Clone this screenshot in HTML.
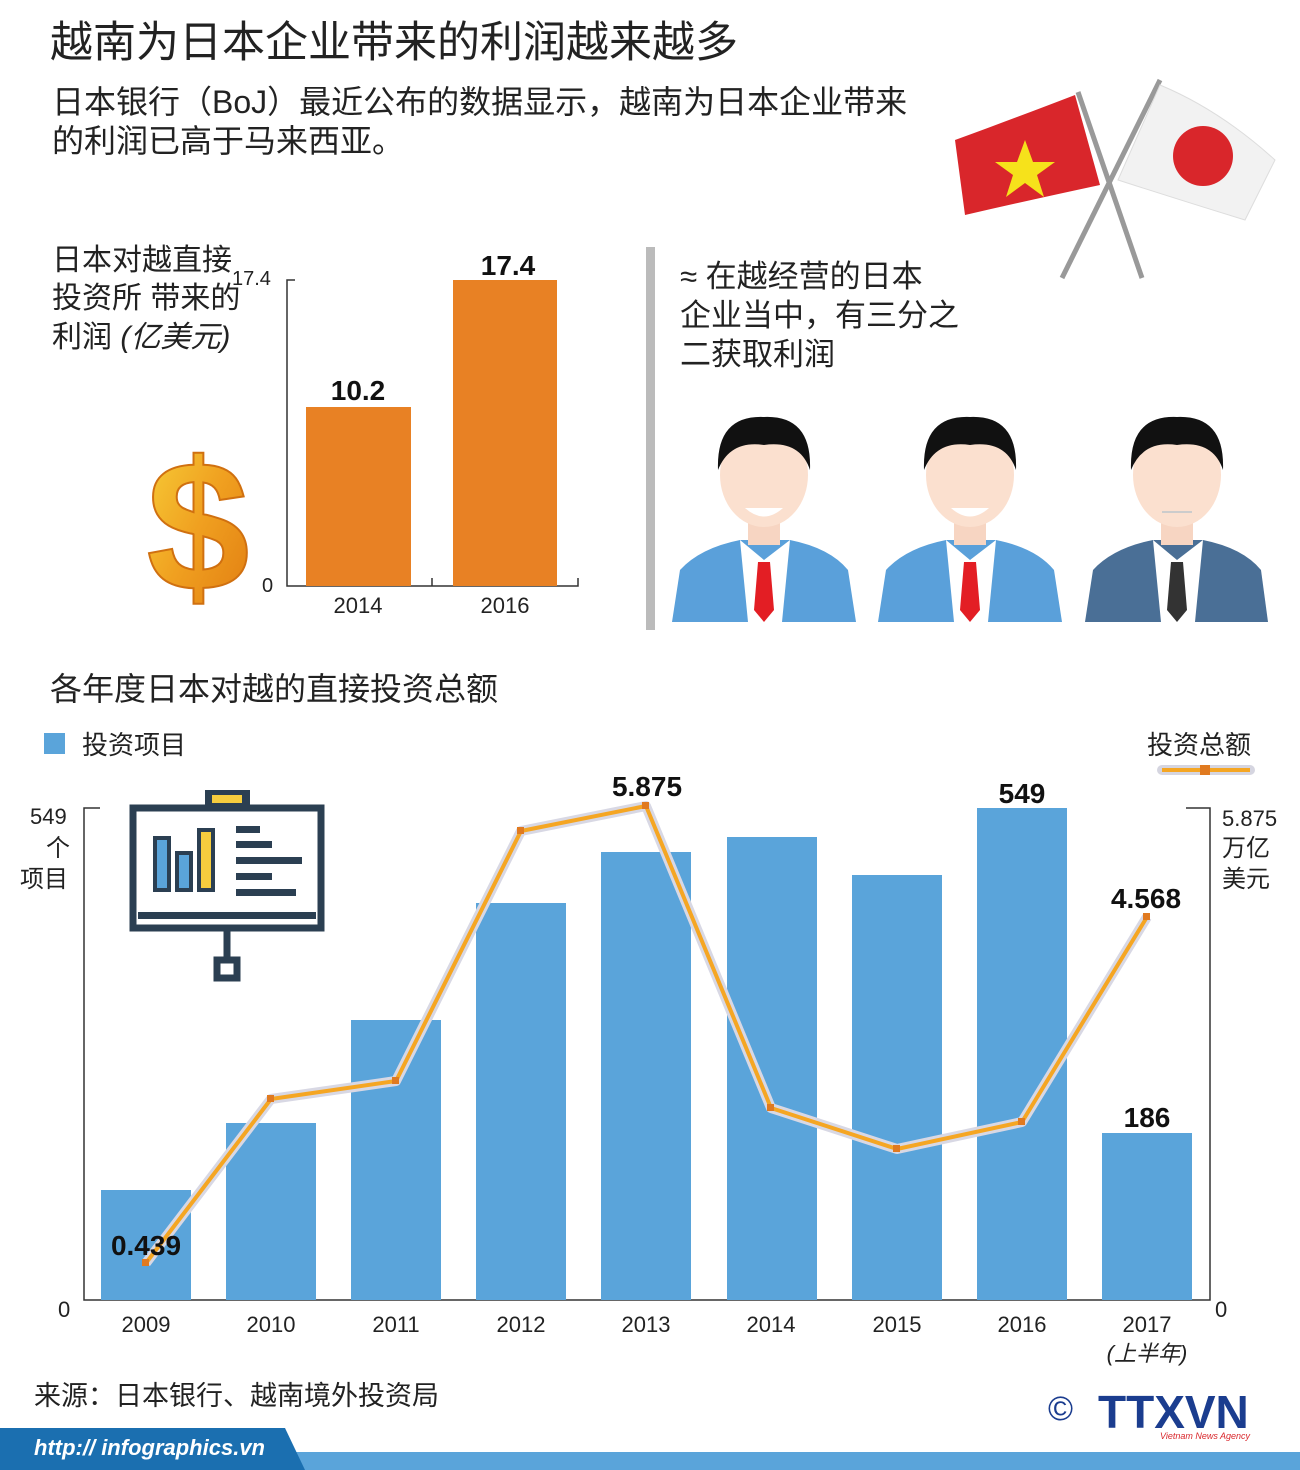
<!DOCTYPE html>
<html><head><meta charset="utf-8"><style>
body{margin:0;background:#fff;}
svg{display:block;}
text{font-family:"Liberation Sans","Noto Sans CJK SC",sans-serif;}
</style></head><body>
<svg width="1300" height="1470" viewBox="0 0 1300 1470" xmlns="http://www.w3.org/2000/svg">
<defs>
<linearGradient id="gd" x1="0" y1="0" x2="1" y2="1"><stop offset="0" stop-color="#f7d23a"/><stop offset="0.5" stop-color="#f0a020"/><stop offset="1" stop-color="#e07a10"/></linearGradient>
</defs>
<text x="50" y="57" font-size="43" fill="#222">越南为日本企业带来的利润越来越多</text>
<text x="52" y="113" font-size="32" fill="#222">日本银行（BoJ）最近公布的数据显示，越南为日本企业带来</text>
<text x="52" y="152" font-size="32" fill="#222">的利润已高于马来西亚。</text>

<!-- flags -->
<line x1="1078" y1="92" x2="1142" y2="278" stroke="#999" stroke-width="5"/>
<line x1="1160" y1="80" x2="1062" y2="278" stroke="#999" stroke-width="5"/>
<path d="M955 140 Q1010 120 1075 95 L1100 185 Q1030 200 965 215 Z" fill="#d9262b"/>
<polygon points="1025,140 1033,162 1055,162 1037,175 1044,197 1025,183 1006,197 1013,175 995,162 1017,162" fill="#f6e21b"/>
<path d="M1160 85 Q1220 110 1275 160 L1245 220 Q1180 200 1118 180 Z" fill="#f2f2f2" stroke="#ddd"/>
<circle cx="1203" cy="156" r="30" fill="#d9262b"/>

<!-- left block -->
<text x="52" y="270" font-size="30" fill="#222">日本对越直接</text>
<text x="52" y="308" font-size="30" fill="#222">投资所 带来的</text>
<text x="52" y="347" font-size="30" fill="#222">利润 <tspan font-style="italic">(亿美元)</tspan></text>
<text x="232" y="285" font-size="20" fill="#222">17.4</text>
<text x="262" y="592" font-size="20" fill="#222">0</text>
<path d="M295 280 H287 V586 H578 V578" fill="none" stroke="#333" stroke-width="1.5"/>
<line x1="432" y1="586" x2="432" y2="578" stroke="#333" stroke-width="1.5"/>
<rect x="306" y="407" width="105" height="179" fill="#e88124"/>
<rect x="453" y="280" width="104" height="306" fill="#e88124"/>
<text x="358" y="400" font-size="28" font-weight="bold" text-anchor="middle" fill="#111">10.2</text>
<text x="508" y="275" font-size="28" font-weight="bold" text-anchor="middle" fill="#111">17.4</text>
<text x="358" y="613" font-size="22" text-anchor="middle" fill="#222">2014</text>
<text x="505" y="613" font-size="22" text-anchor="middle" fill="#222">2016</text>
<text x="198" y="590" font-size="185" font-weight="bold" text-anchor="middle" fill="url(#gd)" stroke="#d07010" stroke-width="2">$</text>

<rect x="646" y="247" width="9" height="383" fill="#bbb"/>
<text x="680" y="287" font-size="31" fill="#222">≈ 在越经营的日本</text>
<text x="680" y="326" font-size="31" fill="#222">企业当中，有三分之</text>
<text x="680" y="365" font-size="31" fill="#222">二获取利润</text>

<!-- persons -->
<g id="p1">
<path d="M672 622 L680 570 Q700 548 740 540 L790 540 Q830 548 848 570 L856 622 Z" fill="#5aa0da"/>
<polygon points="740,540 764,560 790,540 782,622 748,622" fill="#fff"/>
<polygon points="758,562 770,562 774,610 764,622 754,610" fill="#e31e24"/>
<rect x="748" y="505" width="32" height="40" fill="#f7d5c2"/>
<ellipse cx="764" cy="475" rx="44" ry="52" fill="#fbe0cf"/>
<path d="M718 470 Q716 415 764 417 Q812 415 810 470 Q800 440 764 445 Q730 440 718 470 Z" fill="#111"/>
<path d="M745 508 Q764 525 783 508 Z" fill="#fff"/>
</g>
<use href="#p1" x="206"/>
<g>
<path d="M1085 622 L1093 570 Q1113 548 1153 540 L1203 540 Q1243 548 1261 570 L1268 622 Z" fill="#4a6f96"/>
<polygon points="1153,540 1177,560 1203,540 1195,622 1161,622" fill="#fff"/>
<polygon points="1171,562 1183,562 1187,610 1177,622 1167,610" fill="#333"/>
<rect x="1161" y="505" width="32" height="40" fill="#f7d5c2"/>
<ellipse cx="1177" cy="475" rx="44" ry="52" fill="#fbe0cf"/>
<path d="M1131 470 Q1129 415 1177 417 Q1225 415 1223 470 Q1213 440 1177 445 Q1143 440 1131 470 Z" fill="#111"/>
<line x1="1162" y1="512" x2="1192" y2="512" stroke="#ccc" stroke-width="2"/>
</g>

<!-- section 2 -->
<text x="50" y="700" font-size="32" fill="#222">各年度日本对越的直接投资总额</text>
<rect x="44" y="733" width="21" height="21" fill="#5aa4da"/>
<text x="82" y="754" font-size="26" fill="#222">投资项目</text>
<text x="1147" y="754" font-size="26" fill="#222">投资总额</text>
<line x1="1162" y1="770" x2="1250" y2="770" stroke="#d5d5e0" stroke-width="10" stroke-linecap="round"/>
<line x1="1162" y1="770" x2="1250" y2="770" stroke="#f5a623" stroke-width="4"/>
<rect x="1200" y="765" width="10" height="10" fill="#e07a20"/>

<text x="30" y="824" font-size="22" fill="#222">549</text>
<text x="46" y="856" font-size="24" fill="#222">个</text>
<text x="20" y="887" font-size="24" fill="#222">项目</text>
<text x="58" y="1317" font-size="22" fill="#222">0</text>
<text x="1222" y="826" font-size="22" fill="#222">5.875</text>
<text x="1222" y="856" font-size="24" fill="#222">万亿</text>
<text x="1222" y="887" font-size="24" fill="#222">美元</text>
<text x="1215" y="1317" font-size="22" fill="#222">0</text>
<path d="M100 808 H84 V1300 H1210 V808 H1186" fill="none" stroke="#333" stroke-width="1.5"/>

<g fill="#5aa4da">
<rect x="101" y="1190" width="90" height="110"/>
<rect x="226" y="1123" width="90" height="177"/>
<rect x="351" y="1020" width="90" height="280"/>
<rect x="476" y="903" width="90" height="397"/>
<rect x="601" y="852" width="90" height="448"/>
<rect x="727" y="837" width="90" height="463"/>
<rect x="852" y="875" width="90" height="425"/>
<rect x="977" y="808" width="90" height="492"/>
<rect x="1102" y="1133" width="90" height="167"/>
</g>

<!-- presentation icon -->
<g stroke="#2b3f52" fill="none" stroke-width="7">
<rect x="133" y="808" width="188" height="120" fill="#fff"/>
<line x1="227" y1="930" x2="227" y2="960"/>
<rect x="217" y="960" width="20" height="18" fill="#fff"/>
</g>
<rect x="205" y="790" width="45" height="16" fill="#2b3f52"/><rect x="212" y="795" width="30" height="8" fill="#f6cd3e"/>
<rect x="138" y="912" width="178" height="7" fill="#2b3f52"/>
<rect x="155" y="838" width="14" height="52" fill="#5aa4da" stroke="#2b3f52" stroke-width="4"/>
<rect x="177" y="853" width="14" height="37" fill="#5aa4da" stroke="#2b3f52" stroke-width="4"/>
<rect x="199" y="830" width="14" height="60" fill="#f6cd3e" stroke="#2b3f52" stroke-width="4"/>
<g fill="#2b3f52"><rect x="236" y="826" width="24" height="7"/><rect x="236" y="841" width="36" height="7"/><rect x="236" y="857" width="66" height="7"/><rect x="236" y="873" width="36" height="7"/><rect x="236" y="889" width="60" height="7"/></g>

<polyline points="146,1263 271,1099 396,1081 521,831 646,806 771,1108 897,1149 1022,1122 1147,917" fill="none" stroke="#d8d8e4" stroke-width="10" stroke-linejoin="round"/>
<polyline points="146,1263 271,1099 396,1081 521,831 646,806 771,1108 897,1149 1022,1122 1147,917" fill="none" stroke="#f5a623" stroke-width="4" stroke-linejoin="round"/>
<g fill="#e07a20">
<rect x="142" y="1259" width="7" height="7"/><rect x="267" y="1095" width="7" height="7"/><rect x="392" y="1077" width="7" height="7"/><rect x="517" y="827" width="7" height="7"/><rect x="642" y="802" width="7" height="7"/><rect x="767" y="1104" width="7" height="7"/><rect x="893" y="1145" width="7" height="7"/><rect x="1018" y="1118" width="7" height="7"/><rect x="1143" y="913" width="7" height="7"/>
</g>
<g font-size="28" font-weight="bold" fill="#111" text-anchor="middle">
<text x="146" y="1255">0.439</text>
<text x="647" y="796">5.875</text>
<text x="1022" y="803">549</text>
<text x="1146" y="908">4.568</text>
<text x="1147" y="1127">186</text>
</g>
<g font-size="22" fill="#222" text-anchor="middle">
<text x="146" y="1332">2009</text><text x="271" y="1332">2010</text><text x="396" y="1332">2011</text><text x="521" y="1332">2012</text><text x="646" y="1332">2013</text><text x="771" y="1332">2014</text><text x="897" y="1332">2015</text><text x="1022" y="1332">2016</text><text x="1147" y="1332">2017</text>
<text x="1147" y="1361" font-style="italic">(上半年)</text>
</g>

<text x="34" y="1405" font-size="27" fill="#222">来源：日本银行、越南境外投资局</text>
<text x="1048" y="1420" font-size="34" fill="#1b3d8f">©</text>
<text x="1098" y="1428" font-size="46" font-weight="bold" fill="#1b3d8f">TTXVN</text>
<text x="1160" y="1439" font-size="9" font-style="italic" fill="#d9262b">Vietnam News Agency</text>
<rect x="0" y="1452" width="1300" height="18" fill="#5aa4da"/>
<polygon points="0,1428 285,1428 305,1470 0,1470" fill="#1b6fb0"/>
<text x="34" y="1455" font-size="22" font-weight="bold" font-style="italic" fill="#fff">http:// infographics.vn</text>
</svg>
</body></html>
